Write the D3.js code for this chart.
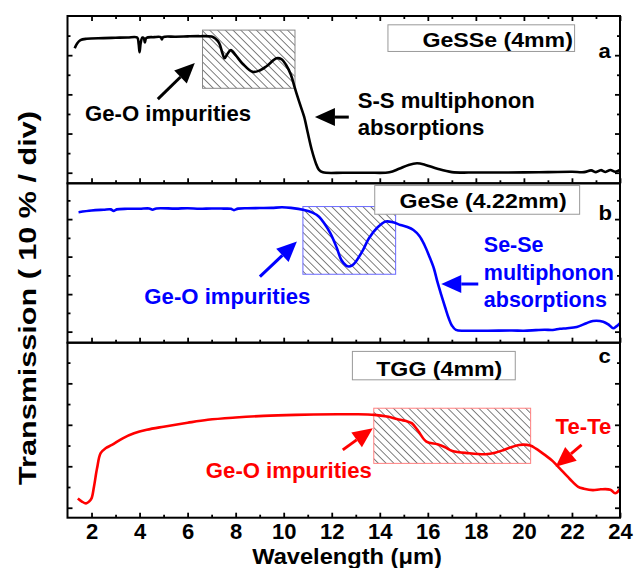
<!DOCTYPE html>
<html>
<head>
<meta charset="utf-8">
<script src="https://cdn.jsdelivr.net/npm/d3@7"></script>
<style>
  body { margin: 0; background: #fff; }
  text { font-family: "Liberation Sans", Arial, sans-serif; font-weight: bold; }
</style>
</head>
<body>
<svg id="chart" width="643" height="568"></svg>
<script>
// GeSSe (4mm)
const lambdaA = [1.30, 1.40, 1.54, 1.8, 2.5, 3.0, 3.5, 3.9, 3.96, 4.0, 4.05, 4.12, 4.18, 4.22, 4.28, 4.6, 4.88, 4.93, 4.98, 5.5, 6.0, 6.5, 7.0, 7.15, 7.31, 7.45, 7.54, 7.65, 7.8, 8.0, 8.3, 8.7, 9.0, 9.3, 9.7, 9.9, 10.1, 10.3, 10.47, 10.65, 10.85, 11.0, 11.17, 11.35, 11.47, 11.63, 12.5, 13.5, 14.4, 14.8, 15.2, 15.55, 15.9, 16.4, 17.0, 18, 19, 20, 21, 22, 22.5, 22.8, 23.0, 23.2, 23.4, 23.6, 23.8, 24.0];
const transA = [63.5, 66.0, 67.7, 68.4, 68.7, 68.9, 69.0, 69.0, 66.0, 61.5, 66.5, 69.0, 68.6, 66.5, 68.8, 69.2, 69.2, 68.0, 69.2, 69.4, 69.6, 69.7, 69.5, 68.5, 66.3, 61.0, 58.4, 60.5, 62.6, 60.0, 55.5, 51.5, 52.2, 54.5, 58.4, 58.0, 55.0, 50.0, 43.0, 36.0, 28.6, 20.5, 11.6, 4.5, 1.4, 0.2, 0.0, 0.0, 0.2, 2.0, 4.0, 4.8, 4.0, 2.0, 0.3, 0.1, 0.1, 0.2, 0.3, 0.5, 0.3, 1.2, 0.3, 1.3, 0.4, 1.4, 0.5, 1.5];

// GeSe (4.22mm)
const lambdaB = [1.46, 2.0, 2.5, 2.8, 2.92, 3.05, 3.5, 4.0, 4.4, 4.54, 4.7, 5.5, 6.0, 6.5, 7.0, 7.5, 7.8, 7.93, 8.1, 8.5, 9.0, 9.5, 9.93, 10.3, 10.85, 11.2, 11.47, 11.7, 11.94, 12.2, 12.4, 12.6, 12.71, 12.85, 13.0, 13.3, 13.55, 13.9, 14.25, 14.55, 14.86, 15.15, 15.4, 15.65, 15.86, 16.05, 16.25, 16.4, 16.56, 16.72, 16.87, 17.0, 17.17, 17.6, 18.5, 19.5, 20.0, 20.5, 20.86, 21.2, 21.5, 21.8, 22.2, 22.6, 22.87, 23.3, 23.55, 23.72, 23.85, 24.0];
const transB = [63.7, 64.6, 65.0, 65.2, 64.4, 65.2, 65.5, 65.5, 65.7, 65.0, 65.7, 65.6, 65.8, 65.5, 65.7, 65.6, 65.5, 64.8, 65.6, 65.8, 65.9, 66.0, 66.3, 66.0, 64.9, 63.5, 61.3, 57.5, 52.5, 45.0, 38.2, 35.2, 34.7, 35.3, 37.3, 43.5, 49.8, 55.5, 58.7, 58.3, 56.9, 55.8, 54.2, 51.0, 46.2, 40.5, 33.8, 26.5, 19.6, 13.0, 7.1, 3.3, 0.9, 0.5, 0.5, 0.6, 0.5, 0.8, 1.0, 0.9, 1.5, 1.8, 2.5, 4.5, 5.7, 5.3, 3.5, 1.8, 2.8, 4.5];

// TGG (4mm)
const lambdaC = [1.43, 1.6, 1.77, 1.9, 2.0, 2.1, 2.23, 2.38, 2.6, 2.85, 3.3, 3.77, 4.3, 5.0, 6.0, 6.84, 8.0, 9.16, 10.5, 12.24, 13.0, 13.78, 14.3, 14.86, 15.1, 15.33, 15.6, 15.94, 16.4, 16.7, 17.02, 17.7, 18.4, 18.8, 19.17, 19.5, 19.8, 20.26, 20.5, 20.87, 21.2, 21.49, 21.9, 22.26, 22.5, 22.87, 23.2, 23.6, 23.8, 24.0];
const transC = [4.5, 3.0, 2.1, 3.0, 4.5, 10.0, 19.0, 26.3, 28.8, 30.3, 33.5, 35.9, 37.6, 39.1, 41.0, 42.4, 43.5, 44.3, 44.8, 45.1, 45.1, 44.8, 44.0, 42.4, 41.8, 40.8, 37.0, 31.9, 30.6, 29.3, 27.4, 26.3, 25.8, 26.5, 27.9, 29.3, 30.3, 30.0, 28.5, 25.5, 22.5, 19.0, 14.0, 10.1, 9.2, 8.5, 8.9, 8.7, 7.0, 9.0];

const xMajorTicks = [2, 4, 6, 8, 10, 12, 14, 16, 18, 20, 22, 24];
const xMinorTicks = [3, 5, 7, 9, 11, 13, 15, 17, 19, 21, 23];
const yMajorTicks = [0, 20, 40, 60];
const yMinorTicks = [10, 30, 50, 70];

const svg = d3.select("#chart");
const x = d3.scaleLinear().domain([1, 24]).range([67.5, 620]);

// text in the figure is drawn a bit wide, so stretch it horizontally
function label(g, px, py, str, size, color, anchor, sx) {
  return g.append("text")
    .attr("transform", `translate(${px},${py}) scale(${sx || 1.03},1)`)
    .attr("text-anchor", anchor || "start")
    .style("font-size", size + "px")
    .attr("fill", color)
    .text(str);
}

function arrow(g, x1, y1, x2, y2, color) {
  const dx = x2 - x1, dy = y2 - y1;
  const len = Math.sqrt(dx * dx + dy * dy);
  const ux = dx / len, uy = dy / len;
  const headLen = 20, headW = 9;
  const bx = x2 - ux * headLen, by = y2 - uy * headLen;
  g.append("line")
    .attr("x1", x1).attr("y1", y1).attr("x2", bx).attr("y2", by)
    .attr("stroke", color).attr("stroke-width", 3);
  g.append("path")
    .attr("d", `M${x2},${y2} L${bx - uy * headW},${by + ux * headW} L${bx + uy * headW},${by - ux * headW} Z`)
    .attr("fill", color);
}

// hatch pattern
const defs = svg.append("defs");
defs.append("pattern")
  .attr("id", "hatch")
  .attr("patternUnits", "userSpaceOnUse")
  .attr("width", 5.5).attr("height", 5.5)
  .attr("patternTransform", "rotate(-45)")
  .append("line")
  .attr("x1", 0).attr("y1", 0).attr("x2", 0).attr("y2", 5.5)
  .attr("stroke", "#000").attr("stroke-width", 1);

const panels = [
  {
    top: 16, bottom: 183.3, domain: [-5.4, 80], color: "#000000", xs: lambdaA, ys: transA,
    hatch: [6.62, 10.47, 72.8, 43.1], hatchStroke: "#888",
    legend: [14.34, 22.11, 75.5, 61.9], legendText: "GeSSe (4mm)", legendEnd: 22.04, legendBase: 64,
    tag: "a", tagBase: 58.5, topTicks: true
  },
  {
    top: 183.3, bottom: 342.7, domain: [-5.9, 79.1], color: "#0000ff", xs: lambdaB, ys: transB,
    hatch: [10.8, 14.66, 66.7, 30.6], hatchStroke: "#6a6aff",
    legend: [13.79, 22.32, 77.9, 62.6], legendText: "GeSe (4.22mm)", legendEnd: 21.78, legendBase: 66,
    tag: "b", tagBase: 59.6
  },
  {
    top: 342.7, bottom: 517.7, domain: [-4.8, 79.6], color: "#ff0000", xs: lambdaC, ys: transC,
    hatch: [13.75, 20.28, 48.0, 21.4], hatchStroke: "#ff8080",
    legend: [12.86, 19.64, 75.4, 61.7], legendText: "TGG (4mm)", legendEnd: 19.1, legendBase: 63.3,
    tag: "c", tagBase: 69.9, labels: true
  }
];

panels.forEach(p => {
  const y = d3.scaleLinear().domain(p.domain).range([p.bottom, p.top]);
  p.y = y;
  const g = svg.append("g");
  p.g = g;

  // hatched region
  g.append("rect")
    .attr("x", x(p.hatch[0])).attr("y", y(p.hatch[2]))
    .attr("width", x(p.hatch[1]) - x(p.hatch[0]))
    .attr("height", y(p.hatch[3]) - y(p.hatch[2]))
    .attr("fill", "url(#hatch)")
    .attr("stroke", p.hatchStroke).attr("stroke-width", 1);

  // legend box
  g.append("rect")
    .attr("x", x(p.legend[0])).attr("y", y(p.legend[2]))
    .attr("width", x(p.legend[1]) - x(p.legend[0]))
    .attr("height", y(p.legend[3]) - y(p.legend[2]))
    .attr("fill", "#fff").attr("stroke", "#999").attr("stroke-width", 1);
  label(g, x(p.legendEnd), y(p.legendBase), p.legendText, 20.5, "#000", "end", 1.13);
  label(g, x(23.11), y(p.tagBase), p.tag, 21, "#000", "start", 1.05);

  // spectrum
  const line = d3.line()
    .x((d, i) => x(p.xs[i]))
    .y(d => y(d))
    .curve(d3.curveCatmullRom.alpha(0.5));
  g.append("path")
    .attr("d", line(p.ys))
    .attr("fill", "none")
    .attr("stroke", p.color)
    .attr("stroke-width", 2.6)
    .attr("stroke-linejoin", "round");

  // ticks, all pointing inward
  const tickAxes = [
    [d3.axisLeft(y).tickValues(yMajorTicks).tickSize(-5), `translate(${x.range()[0]},0)`],
    [d3.axisLeft(y).tickValues(yMinorTicks).tickSize(-3), `translate(${x.range()[0]},0)`],
    [d3.axisRight(y).tickValues(yMajorTicks).tickSize(-5), `translate(${x.range()[1]},0)`],
    [d3.axisRight(y).tickValues(yMinorTicks).tickSize(-3), `translate(${x.range()[1]},0)`],
    [d3.axisBottom(x).tickValues(xMinorTicks).tickSize(-3), `translate(0,${p.bottom})`]
  ];
  if (p.topTicks) {
    tickAxes.push([d3.axisTop(x).tickValues(xMajorTicks).tickSize(-5), `translate(0,${p.top})`]);
    tickAxes.push([d3.axisTop(x).tickValues(xMinorTicks).tickSize(-3), `translate(0,${p.top})`]);
  }
  if (!p.labels) {
    tickAxes.push([d3.axisBottom(x).tickValues(xMajorTicks).tickSize(-5), `translate(0,${p.bottom})`]);
  }
  tickAxes.forEach(([ax, tr]) => {
    const a = g.append("g").attr("transform", tr).call(ax.tickFormat(""));
    a.select(".domain").remove();
    a.selectAll("line").attr("stroke", "#000").attr("stroke-width", 1.8);
  });

  if (p.labels) {
    const a = g.append("g")
      .attr("transform", `translate(0,${p.bottom})`)
      .call(d3.axisBottom(x).tickValues(xMajorTicks).tickSize(-5).tickPadding(6));
    a.select(".domain").remove();
    a.selectAll("line").attr("stroke", "#000").attr("stroke-width", 1.8);
    a.selectAll("text")
      .style("font-size", "22px")
      .attr("fill", "#000")
      .attr("font-family", null);
  }

  // frame
  g.append("rect")
    .attr("x", x.range()[0]).attr("y", p.top)
    .attr("width", x.range()[1] - x.range()[0])
    .attr("height", p.bottom - p.top)
    .attr("fill", "none").attr("stroke", "#000").attr("stroke-width", 2);
});

// annotations
const [pa, pb, pc] = panels;
label(pa.g, x(1.73), pa.y(26.2), "Ge-O impurities", 21.5, "#000");
arrow(pa.g, x(4.76), pa.y(37.6), x(6.3), pa.y(56), "#000");
label(pa.g, x(13.08), pa.y(33), "S-S multiphonon", 21.5, "#000");
label(pa.g, x(13.08), pa.y(19.2), "absorptions", 21.5, "#000");
arrow(pa.g, x(12.71), pa.y(28.4), x(11.3), pa.y(28.4), "#000");

label(pb.g, x(4.2), pb.y(14.6), "Ge-O impurities", 21.5, "#0000ff");
arrow(pb.g, x(9.01), pb.y(29.3), x(10.55), pb.y(48), "#0000ff");
label(pb.g, x(18.33), pb.y(42.3), "Se-Se", 21.5, "#0000ff", "start", 1.0);
label(pb.g, x(18.33), pb.y(27.6), "multiphonon", 21.5, "#0000ff", "start", 1.0);
label(pb.g, x(18.33), pb.y(13.3), "absorptions", 21.5, "#0000ff", "start", 1.0);
arrow(pb.g, x(18.1), pb.y(25.4), x(16.56), pb.y(25.4), "#0000ff");

label(pc.g, x(6.76), pc.y(14.5), "Ge-O impurities", 21.5, "#ff0000");
arrow(pc.g, x(12.46), pc.y(27.9), x(13.71), pc.y(38.4), "#ff0000");
label(pc.g, x(21.32), pc.y(35.6), "Te-Te", 21.5, "#ff0000");
arrow(pc.g, x(22.4), pc.y(30.3), x(21.32), pc.y(19.8), "#ff0000");

// axis titles
svg.append("text")
  .attr("transform", "translate(347,563.5) scale(1.1,1)")
  .attr("text-anchor", "middle")
  .style("font-size", "21.5px")
  .text("Wavelength (\u03bcm)");

svg.append("text")
  .attr("transform", "translate(36,298) rotate(-90) scale(1.33,1)")
  .attr("text-anchor", "middle")
  .style("font-size", "23px")
  .text("Transmission ( 10 % / div)");
</script>
</body>
</html>
